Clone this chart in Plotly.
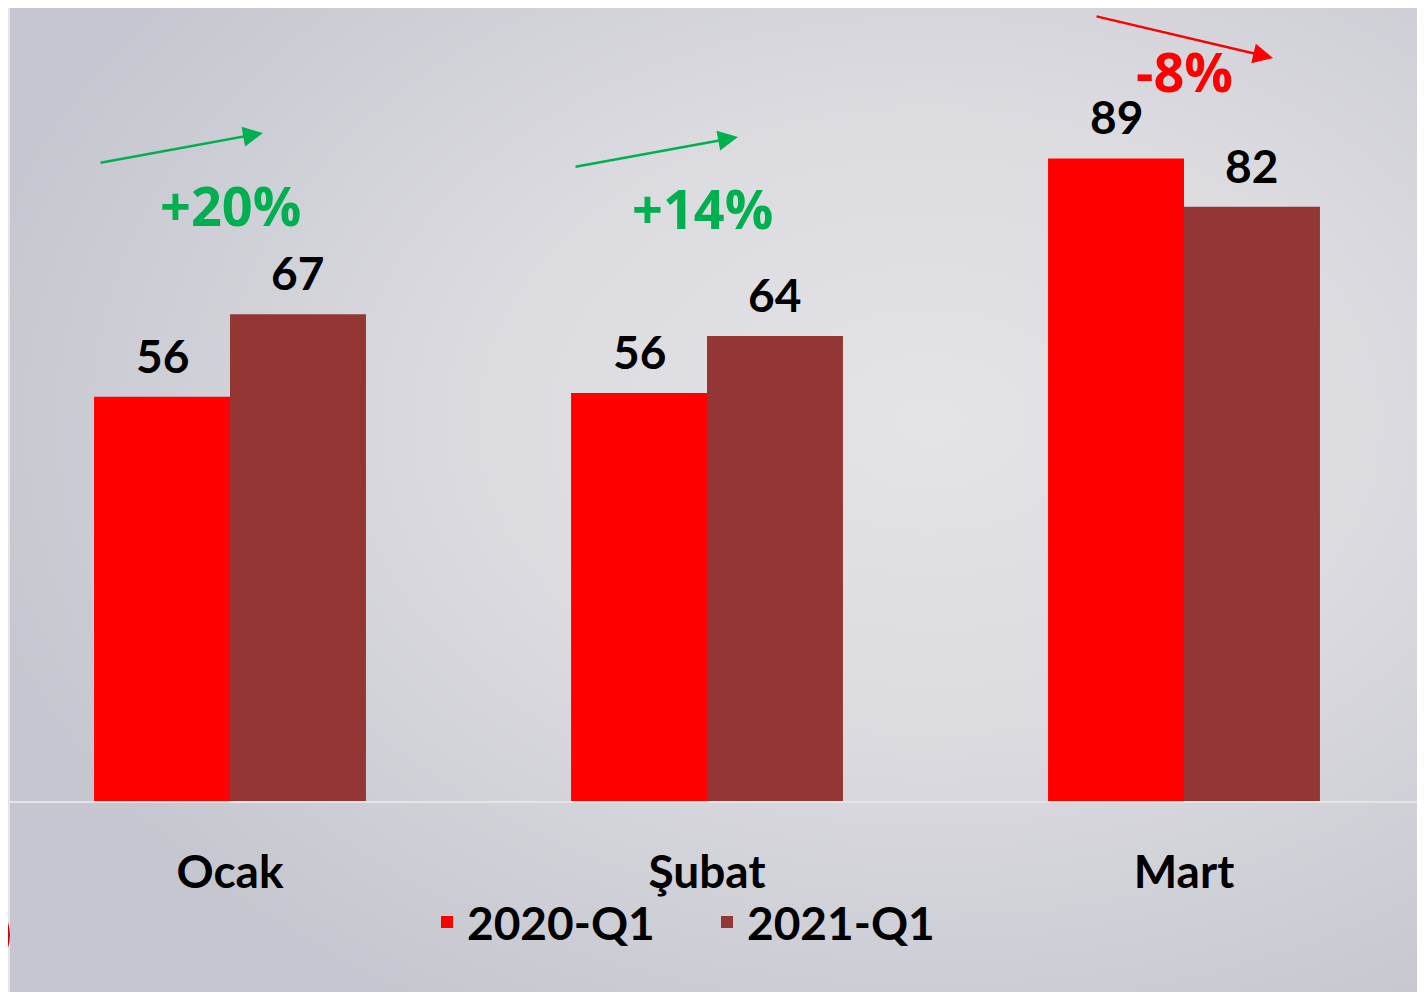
import base64
import plotly.graph_objects as go

# ---- data ----
categories = ["Ocak", "Şubat", "Mart"]
series_names = ["2020-Q1", "2021-Q1"]
values_2020 = [56, 56.5, 89]
values_2021 = [67.4, 64.4, 82.3]
labels_2020 = ["56", "56", "89"]
labels_2021 = ["67", "64", "82"]
change_labels = ["+20%", "+14%", "-8%"]
change_colors = ["#00b050", "#00b050", "#ff0000"]

colors = ["#ff0000", "#943634"]
FONT = "Lato"
PCT_FONT = "Open Sans"
FS = 46

# page body adds an 8px offset; figure sized to fit the window
W, H = 1417, 984
ML, MR, MT = 2, 0, 0
PLOT_LEFT_SCREEN = 10      # screen x of plot-area left edge
BASE_SCREEN = 801          # screen y of the value axis baseline
PW = W - ML - MR
PH = 793
MB = H - MT - PH
PX_PER_UNIT = 7.22
Y_MAX = PH / PX_PER_UNIT
CAT_PX = 477.0
CAT0_SCREEN = 230
X0 = -(CAT0_SCREEN - PLOT_LEFT_SCREEN) / CAT_PX
X1 = X0 + PW / CAT_PX


def sx_to_data(px):
    return (px - CAT0_SCREEN) / CAT_PX


def sy_to_data(py):
    return (BASE_SCREEN - py) / PX_PER_UNIT


fig = go.Figure()
idx = list(range(len(categories)))
for name, vals, col in zip(series_names, [values_2020, values_2021], colors):
    fig.add_trace(go.Bar(
        x=idx, y=vals, name=name, marker=dict(color=col, line=dict(width=0)),
        hoverinfo="x+y",
    ))

# bar value labels
bargap = 0.43
half = (1 - bargap) / 4
annotations = []
for i in idx:
    for k, (vals, labs) in enumerate([(values_2020, labels_2020), (values_2021, labels_2021)]):
        off = -half if k == 0 else half
        annotations.append(dict(
            x=i + off, y=vals[i], xref="x", yref="y", text=labs[i],
            showarrow=False, yanchor="bottom", yshift=12,
            font=dict(family=FONT, size=FS, color="black", weight="bold"),
        ))

# percent change labels
pct_y = [sy_to_data(205), sy_to_data(208), sy_to_data(71)]
pct_dx = [0, -5 / CAT_PX, 0]
for i in idx:
    annotations.append(dict(
        x=i + pct_dx[i], y=pct_y[i], xref="x", yref="y", text=change_labels[i],
        showarrow=False, yanchor="middle",
        font=dict(family=PCT_FONT, size=54, color=change_colors[i], weight="bold"),
    ))

# trend arrows (head position in screen px, tail offset in px)
arrow_specs = [
    ((263, 133), (-164, 30), "#00b050"),
    ((738, 137), (-164, 30), "#00b050"),
    ((1273, 58), (-178, -42), "#ff0000"),
]
for (hx, hy), (ax, ay), col in arrow_specs:
    annotations.append(dict(
        x=sx_to_data(hx), y=sy_to_data(hy), xref="x", yref="y",
        ax=ax, ay=ay, axref="pixel", ayref="pixel", text="",
        showarrow=True, arrowhead=2, arrowsize=1.6, arrowwidth=2.5, arrowcolor=col,
    ))

# background gradient image
svg = (
    "<svg xmlns='http://www.w3.org/2000/svg' width='1415' height='984' preserveAspectRatio='none'>"
    "<defs><radialGradient id='g' cx='0.65' cy='0.42' r='0.7'>"
    "<stop offset='0' stop-color='#e4e4e7'/>"
    "<stop offset='0.45' stop-color='#dbdbe0'/>"
    "<stop offset='1' stop-color='#c6c6d0'/>"
    "</radialGradient></defs>"
    "<rect width='100%' height='100%' fill='url(#g)'/></svg>"
)
src = "data:image/svg+xml;base64," + base64.b64encode(svg.encode()).decode()


def px_paper(sx):
    return (sx - PLOT_LEFT_SCREEN) / PW


def py_paper(sy):
    return (BASE_SCREEN - sy) / PH


fig.update_layout(
    width=W, height=H,
    margin=dict(l=ML, r=MR, t=MT, b=MB, pad=0),
    paper_bgcolor="#e4e4ec",
    plot_bgcolor="rgba(0,0,0,0)",
    barmode="group", bargap=bargap, bargroupgap=0,
    font=dict(family=FONT, size=FS, color="black"),
    showlegend=True,
    legend=dict(
        orientation="h", x=px_paper(707), xanchor="center",
        y=py_paper(922), yanchor="middle",
        entrywidth=235, entrywidthmode="pixels",
        font=dict(family=FONT, size=FS, color="black", weight="bold"),
        bgcolor="rgba(0,0,0,0)", itemclick=False, itemdoubleclick=False,
    ),
    xaxis=dict(
        tickmode="array", tickvals=idx, ticktext=categories, range=[X0, X1],
        showgrid=False, zeroline=False, showline=True, linecolor="#e6e4e4", linewidth=2,
        ticks="", ticklabelstandoff=30,
        tickfont=dict(family=FONT, size=FS, color="black", weight="bold"),
        fixedrange=True,
    ),
    yaxis=dict(
        range=[0, Y_MAX], visible=False, showgrid=False, zeroline=False, fixedrange=True,
    ),
    annotations=annotations,
    images=[dict(
        source=src, xref="paper", yref="paper", x=0, y=1, sizex=1,
        sizey=(H - MT) / PH, xanchor="left", yanchor="top", sizing="stretch",
        layer="below",
    )],
    shapes=[dict(
        type="circle", xref="paper", yref="paper",
        x0=px_paper(-76), x1=px_paper(10),
        y0=py_paper(978), y1=py_paper(892),
        fillcolor="#d4000c", line=dict(width=0), layer="above",
    )],
)

fig.write_html("out.html")
